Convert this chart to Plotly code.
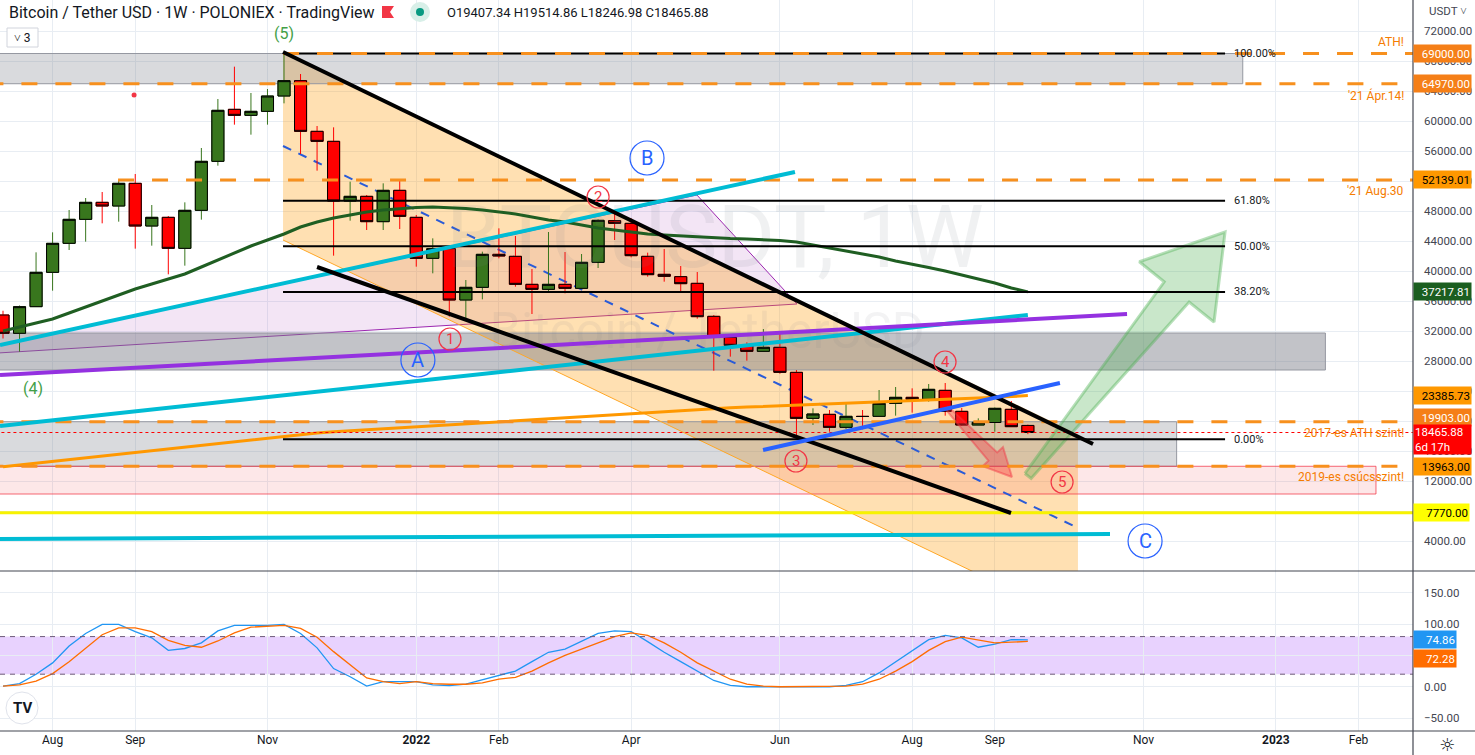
import math
import pandas as pd
import plotly.graph_objects as go
from plotly.subplots import make_subplots

# ---------------- data ----------------
START = pd.Timestamp("2021-07-12")          # week of the first candle
dates = pd.date_range(START, periods=63, freq="7D")

opens = [34133, 31693, 35245, 39822, 43689, 46889, 49156, 48667, 51689, 46000,
         47156, 43022, 48089, 54622, 61556, 60756, 61289, 63333, 65378, 58622,
         57289, 49333, 49956, 46578, 50756, 47156, 41689, 42978, 36133, 37822,
         42222, 41956, 38222, 37556, 38222, 37689, 41156, 46711, 46356, 41956,
         39556, 39244, 38356, 33956, 31156, 30089, 29289, 29822, 26489, 20356,
         20889, 19156, 20622, 20622, 22356, 23156, 22889, 24089, 21289, 19467,
         19800, 21556, 19407.34]
highs = [34700, 35400, 42489, 45156, 48133, 49733, 50533, 52133, 52933, 48800,
         47333, 49156, 56400, 62933, 67244, 63733, 64267, 69000, 66267, 59333,
         59156, 51911, 50133, 51689, 52000, 47467, 44356, 43467, 38800, 42578,
         45689, 44667, 40267, 45200, 42533, 42267, 46889, 48133, 47022, 42444,
         42933, 40667, 39867, 34133, 31300, 30489, 32267, 31600, 26800, 21689,
         21467, 22267, 21467, 24133, 24533, 24356, 24933, 25067, 21733, 20356,
         21800, 22667, 19514.86]
lows = [31000, 29240, 35200, 37378, 42800, 43911, 46356, 46578, 42978, 43378,
        39556, 40711, 46844, 54044, 59511, 58178, 59511, 62356, 55600, 53378,
        42044, 46711, 45467, 45467, 45600, 40578, 39689, 33911, 33467, 36222,
        41689, 37911, 34267, 37333, 37022, 37689, 40400, 44133, 41822, 39244,
        38578, 37333, 33644, 26711, 28578, 28044, 29289, 26300, 17567, 19467,
        18578, 18933, 18889, 20622, 20711, 21111, 22578, 20711, 19378, 19467,
        18578, 19200, 18246.98]
closes = [31693, 35245, 39822, 43689, 46889, 49156, 48667, 51689, 46000, 47156,
          43022, 48089, 54622, 61422, 60756, 61289, 63333, 65378, 58622, 57289,
          49333, 49956, 46578, 50756, 47289, 41689, 42978, 36133, 37822, 42222,
          42000, 38222, 37556, 38222, 37689, 41156, 46756, 46356, 42044, 39511,
          39289, 38311, 33911, 31156, 30089, 29289, 29822, 26489, 20356, 20933,
          19156, 20622, 20600, 22356, 23156, 22889, 24222, 21289, 19467, 19822,
          21689, 19244, 18465.88]
sma50 = [32000, 32533, 33067, 33600, 34400, 35200, 36000, 36800, 37600, 38267,
         38933, 39600, 40533, 41467, 42400, 43333, 44133, 44933, 45867, 46533,
         47067, 47467, 47867, 48133, 48333, 48467, 48533, 48467, 48333, 48133,
         47867, 47600, 47200, 46800, 46533, 46133, 45733, 45467, 45200, 44933,
         44800, 44667, 44533, 44400, 44333, 44267, 44200, 44067, 43867, 43467,
         43067, 42667, 42267, 41867, 41333, 40933, 40467, 40000, 39467, 39000,
         38400, 37733, 37217.81]
ma200 = [13910, 14150, 14395, 14640, 14880, 15120, 15360, 15610, 15850, 16095,
         16330, 16580, 16815, 17065, 17300, 17550, 17790, 18030, 18270, 18410,
         18550, 18685, 18820, 18960, 19100, 19235, 19370, 19510, 19645, 19785,
         19920, 20060, 20200, 20335, 20475, 20610, 20750, 20890, 21025, 21165,
         21300, 21440, 21575, 21670, 21760, 21850, 21930, 22020, 22105, 22195,
         22280, 22370, 22460, 22545, 22630, 22720, 22805, 22895, 22980, 23070,
         23155, 23240, 23385.73]
stoch_k = [1, 5, 20, 38, 65, 85, 99.5, 99.5, 88, 78,
           58, 61, 70, 89, 98, 98, 98, 99.5, 85, 62,
           29, 16, 1, 8, 8, 8, 3, 2, 4, 11,
           17, 25, 40, 55, 60, 72, 85, 89, 88, 72,
           55, 40, 25, 10, 2, 0, 0, 0, 0, 0,
           0, 2, 8, 22, 40, 58, 75, 82, 78, 63,
           68, 75, 74.86]
stoch_d = [1, 3, 9, 21, 40, 61, 83, 94, 94, 88,
           74, 66, 63, 73, 86, 95, 97, 98, 93, 79,
           56, 35, 14, 8, 5, 8, 5, 4, 4, 6,
           12, 15, 25, 38, 50, 60, 70, 80, 86, 82,
           70, 55, 38, 25, 12, 4, 1, 0, 0, 0,
           0, 1, 4, 12, 25, 40, 58, 72, 79, 75,
           70, 71, 72.28]

tick_dates = ["2021-08-02", "2021-09-06", "2021-11-01", "2022-01-03", "2022-02-07", "2022-04-04",
              "2022-06-06", "2022-08-01", "2022-09-05", "2022-11-07", "2023-01-02", "2023-02-06"]
tick_text = ["Aug", "Sep", "Nov", "<b>2022</b>", "Feb", "Apr", "Jun", "Aug", "Sep", "Nov", "<b>2023</b>", "Feb"]

# horizontal levels
ath_level = 69000
apr_level = 64970
aug_level = 52139.01
ath2017_level = 19903
top2019_level = 13963
yellow_level = 7770
last_price = 18465.88
fib_high = 69000
fib_low = 17567
fib_ratios = [1.0, 0.618, 0.5, 0.382, 0.0]
fib_labels = ["100.00%", "61.80%", "50.00%", "38.20%", "0.00%"]

# drawing anchors: (bar offset from first candle, price)
zones = [((-3, 64970), (75.0, 69000), "rgba(120,123,134,0.28)"),
         ((-3, 26800), (80.0, 31733), "rgba(120,123,134,0.45)"),
         ((-3, 13963), (71.0, 19903), "rgba(120,123,134,0.28)")]
pink_zone = ((-3, 10267), (83.06, 13963))
cyan_lines = [((-0.18, 30133), (47.91, 53200)),
              ((-0.18, 19333), (62.0, 34133)),
              ((-0.18, 4267), (66.97, 4933))]
purple_line = ((-0.18, 26133), (68.0, 34267))
triangle = [(-3.27, 28667), (41.98, 50133), (48.03, 35600)]
chan_upper = [(16.94, 69200), (65.03, 18267)]
chan_lower = [(16.94, 44133), (65.03, -6800)]
chan_mid = [(16.94, 56667), (65.03, 5733)]
black_lines = [((16.94, 69200), (65.94, 16933)),
               ((19.0, 40533), (60.98, 7733))]
blue_line = ((45.98, 16133), (63.94, 25067))
fib_span = (16.94, 73.93)
red_arrow = ((57.11, 21733), (61.04, 12533))
green_arrow = ((62.01, 12667), (73.93, 45200))
blue_circles = [("A", 25.1, 28133), ("B", 38.96, 55067), ("C", 69.09, 4000)]
red_circles = [("1", 27.04, 30933), ("2", 36.0, 49867), ("3", 47.97, 14667),
               ("4", 56.99, 27867), ("5", 64.07, 11867)]
green_labels = [("(5)", 17.0, 71733), ("(4)", 1.81, 24400)]

# ---------------- helpers ----------------
PXB = 16.53      # px per bar
PXP = 0.0075     # px per price unit
W, H = 1475, 755
PW, PH = 1413, 731
FONT = "Roboto"
GRID = "#e8edf3"
GREEN = "#38761d"
RED = "#ff0000"
ORANGE = "#f7901e"

# x axis in weekly bar units, counted from START
bars = [(d - START).days / 7 for d in dates]
tick_bars = [(pd.Timestamp(d) - START).days / 7 for d in tick_dates]


def PX(x):
    return x / PW


def PY(y):
    return (PH - y) / PH


def arrow_poly(tail, tip, wt, wb, wh, hl):
    x0, y0 = tail[0] * PXB, tail[1] * PXP
    x1, y1 = tip[0] * PXB, tip[1] * PXP
    dx, dy = x1 - x0, y1 - y0
    L = math.hypot(dx, dy)
    ux, uy = dx / L, dy / L
    nx, ny = -uy, ux
    bx, by = x1 - hl * ux, y1 - hl * uy
    pts = [(x0 + wt * nx, y0 + wt * ny), (bx + wb * nx, by + wb * ny), (bx + wh * nx, by + wh * ny),
           (x1, y1), (bx - wh * nx, by - wh * ny), (bx - wb * nx, by - wb * ny),
           (x0 - wt * nx, y0 - wt * ny)]
    pts.append(pts[0])
    return [px / PXB for px, py in pts], [py / PXP for px, py in pts]


def path_of(pts):
    s = "M " + " L ".join("{:.4f},{:.2f}".format(b, p) for b, p in pts) + " Z"
    return s


fig = make_subplots(rows=2, cols=1, shared_xaxes=True, vertical_spacing=0,
                    row_heights=[571 / 731, 160 / 731])

NOHOVER = dict(hoverinfo="skip", showlegend=False)

# candles: colored wicks, then black-outlined bodies
fig.add_trace(go.Candlestick(x=bars, open=opens, high=highs, low=lows, close=closes,
                             increasing=dict(line=dict(color=GREEN, width=1), fillcolor=GREEN),
                             decreasing=dict(line=dict(color=RED, width=1), fillcolor=RED),
                             whiskerwidth=0, hoverinfo="skip", showlegend=False), row=1, col=1)
body_hi = [max(o, c) for o, c in zip(opens, closes)]
body_lo = [min(o, c) for o, c in zip(opens, closes)]
fig.add_trace(go.Candlestick(x=bars, open=opens, high=body_hi, low=body_lo, close=closes,
                             increasing=dict(line=dict(color="#000000", width=1), fillcolor=GREEN),
                             decreasing=dict(line=dict(color="#000000", width=1), fillcolor=RED),
                             whiskerwidth=0, hoverinfo="skip", showlegend=False), row=1, col=1)

# watermark (faint)
fig.add_trace(go.Scatter(x=[43.07], y=[43467], mode="text", text=["BTCUSDT, 1W"],
                         textfont=dict(size=88, color="rgba(120,123,134,0.11)", family=FONT), **NOHOVER), row=1, col=1)
fig.add_trace(go.Scatter(x=[42.6], y=[31467], mode="text", text=["Bitcoin / TetherUSD"],
                         textfont=dict(size=50, color="rgba(120,123,134,0.09)", family=FONT), **NOHOVER), row=1, col=1)

# moving averages
fig.add_trace(go.Scatter(x=bars, y=ma200, mode="lines", line=dict(color="#ff9800", width=3), **NOHOVER), row=1, col=1)
fig.add_trace(go.Scatter(x=bars, y=sma50, mode="lines", line=dict(color="#1f5e22", width=3), **NOHOVER), row=1, col=1)

# arrows
ax, ay = arrow_poly(red_arrow[0], red_arrow[1], 2, 6, 14, 28)
fig.add_trace(go.Scatter(x=ax, y=ay, mode="lines", fill="toself", fillcolor="rgba(242,54,69,0.38)",
                         line=dict(color="rgba(242,54,69,0.45)", width=2), **NOHOVER), row=1, col=1)
ax, ay = arrow_poly(green_arrow[0], green_arrow[1], 4, 16, 48, 77)
fig.add_trace(go.Scatter(x=ax, y=ay, mode="lines", fill="toself", fillcolor="rgba(76,175,80,0.30)",
                         line=dict(color="rgba(76,175,80,0.40)", width=3), **NOHOVER), row=1, col=1)

# stoch RSI
fig.add_trace(go.Scatter(x=bars, y=stoch_k, mode="lines", line=dict(color="#2196f3", width=1.3), **NOHOVER), row=2, col=1)
fig.add_trace(go.Scatter(x=bars, y=stoch_d, mode="lines", line=dict(color="#ff6d00", width=1.3), **NOHOVER), row=2, col=1)

# ---------------- shapes ----------------
shapes = []
# filled drawings below the candles
shapes.append(dict(type="path", xref="x", yref="y", path=path_of(triangle),
                   fillcolor="rgba(156,39,176,0.12)", line=dict(color="#9c27b0", width=1), layer="between"))
shapes.append(dict(type="path", xref="x", yref="y",
                   path=path_of([chan_upper[0], chan_upper[1], chan_lower[1], chan_lower[0]]),
                   fillcolor="rgba(255,152,0,0.30)", line=dict(width=0), layer="between"))
for (b0, p0), (b1, p1), col in zones:
    shapes.append(dict(type="rect", xref="x", yref="y", x0=b0, x1=b1, y0=p0, y1=p1,
                       fillcolor=col, line=dict(color="#9598a1", width=1), layer="between"))
shapes.append(dict(type="rect", xref="x", yref="y", x0=pink_zone[0][0], x1=pink_zone[1][0],
                   y0=pink_zone[0][1], y1=pink_zone[1][1], fillcolor="rgba(242,54,69,0.12)",
                   line=dict(color="rgba(242,54,69,0.75)", width=1), layer="between"))
shapes.append(dict(type="line", xref="x", yref="y", x0=chan_lower[0][0], y0=chan_lower[0][1],
                   x1=chan_lower[1][0], y1=chan_lower[1][1], line=dict(color="#ffa726", width=1), layer="between"))
shapes.append(dict(type="line", xref="x", yref="y", x0=chan_mid[0][0], y0=chan_mid[0][1],
                   x1=chan_mid[1][0], y1=chan_mid[1][1], line=dict(color="#2a5bd7", width=2, dash="9px,8px"),
                   layer="between"))

# stoch band
shapes.append(dict(type="rect", xref="paper", yref="y2", x0=0, x1=1, y0=20, y1=80,
                   fillcolor="rgba(170,90,250,0.27)", line=dict(width=0), layer="between"))
for lv in (20, 80):
    shapes.append(dict(type="line", xref="paper", yref="y2", x0=0, x1=1, y0=lv, y1=lv,
                       line=dict(color="#6d5a78", width=1, dash="5px,5px"), layer="above"))

# fib lines
for r in fib_ratios:
    v = fib_low + r * (fib_high - fib_low)
    shapes.append(dict(type="line", xref="x", yref="y", x0=fib_span[0], x1=fib_span[1], y0=v, y1=v,
                       line=dict(color="#000000", width=2), layer="above"))

# orange dashed levels
for v, b0 in [(ath_level, 16.94), (apr_level, -3), (aug_level, 6.96), (ath2017_level, -3), (top2019_level, -3)]:
    shapes.append(dict(type="line", xref="x", yref="y", x0=b0, x1=95, y0=v, y1=v,
                       line=dict(color=ORANGE, width=3, dash="16px,18px"), layer="above"))
shapes.append(dict(type="line", xref="x", yref="y", x0=-3, x1=95, y0=last_price, y1=last_price,
                   line=dict(color="#ff0000", width=1, dash="dot"), layer="above"))
shapes.append(dict(type="line", xref="x", yref="y", x0=-3, x1=95, y0=yellow_level, y1=yellow_level,
                   line=dict(color="#f7f200", width=3), layer="above"))


def seg(a, b, color, width):
    return dict(type="line", xref="x", yref="y", x0=a[0], y0=a[1], x1=b[0], y1=b[1],
                line=dict(color=color, width=width), layer="above")


for a, b in cyan_lines:
    shapes.append(seg(a, b, "#00bcd4", 4))
shapes.append(seg(purple_line[0], purple_line[1], "#9431e0", 4))
for a, b in black_lines:
    shapes.append(seg(a, b, "#000000", 4))
shapes.append(seg(blue_line[0], blue_line[1], "#2962ff", 4))


def circ(b, p, r, color, width=1):
    return dict(type="circle", xref="x", yref="y", xsizemode="pixel", ysizemode="pixel",
                xanchor=b, yanchor=p, x0=-r, x1=r, y0=-r, y1=r,
                line=dict(color=color, width=width), layer="above")


for t, b, p in blue_circles:
    shapes.append(circ(b, p, 17, "#2962ff", 1.2))
for t, b, p in red_circles:
    shapes.append(circ(b, p, 11, "#f23645", 1.2))
shapes.append(dict(type="circle", xref="x", yref="y", xsizemode="pixel", ysizemode="pixel",
                   xanchor=7.93, yanchor=63467, x0=-2.5, x1=2.5, y0=-2.5, y1=2.5,
                   fillcolor="#f23645", line=dict(width=0), layer="above"))

# frame lines
shapes.append(dict(type="line", xref="paper", yref="paper", x0=0, x1=W / PW, y0=PY(571), y1=PY(571),
                   line=dict(color="#434651", width=1.2), layer="above"))
shapes.append(dict(type="line", xref="paper", yref="paper", x0=0, x1=W / PW, y0=0, y1=0,
                   line=dict(color="#434651", width=1.2), layer="above"))
shapes.append(dict(type="line", xref="paper", yref="paper", x0=1, x1=1, y0=PY(755), y1=1,
                   line=dict(color="#434651", width=1.2), layer="above"))

# header widgets
shapes.append(dict(type="rect", xref="paper", yref="paper", x0=PX(7), x1=PX(38), y0=PY(47), y1=PY(28),
                   fillcolor="white", line=dict(color="#d1d4dc", width=1), layer="above"))
flag = "M {:.5f},{:.5f} L {:.5f},{:.5f} L {:.5f},{:.5f} L {:.5f},{:.5f} L {:.5f},{:.5f} Z".format(
    PX(382), PY(6), PX(394), PY(6), PX(390), PY(12), PX(394), PY(18), PX(382), PY(18))
shapes.append(dict(type="path", xref="paper", yref="paper", path=flag, fillcolor="#f23645",
                   line=dict(width=0), layer="above"))
shapes.append(dict(type="circle", xref="paper", yref="paper", x0=PX(410), x1=PX(430), y0=PY(22), y1=PY(2),
                   fillcolor="#d8efe8", line=dict(width=0), layer="above"))
shapes.append(dict(type="circle", xref="paper", yref="paper", x0=PX(416), x1=PX(424), y0=PY(16), y1=PY(8),
                   fillcolor="#089981", line=dict(width=0), layer="above"))
shapes.append(dict(type="circle", xref="paper", yref="paper", x0=PX(6), x1=PX(38), y0=PY(724), y1=PY(692),
                   fillcolor="white", line=dict(color="#e0e3eb", width=1), layer="above"))

# ---------------- annotations ----------------
ann = []


def rlabel(val, text, bg, fg, yref="y", shift=0, w=55, h=15):
    return dict(x=1, xref="paper", xanchor="left", y=val, yref=yref, yanchor="middle", yshift=shift,
                text=text, showarrow=False, bgcolor=bg, font=dict(color=fg, size=11.5, family=FONT),
                width=w, height=h, align="right", borderpad=1)


ann.append(rlabel(ath_level, "69000.00", "#f57f17", "white"))
ann.append(rlabel(apr_level, "64970.00", "#f57f17", "white"))
ann.append(rlabel(aug_level, "52139.01", "#ff9800", "#000000"))
ann.append(rlabel(sma50[-1], "37217.81", "#1b5e20", "white"))
ann.append(rlabel(ma200[-1], "23385.73", "#ff9800", "#000000"))
ann.append(rlabel(ath2017_level, "19903.00", "#f57f17", "white", shift=4))
ann.append(dict(x=1, xref="paper", xanchor="left", y=last_price, yref="y", yanchor="top", yshift=9,
                text="18465.88<br>6d 17h", showarrow=False, bgcolor="#ff0000",
                font=dict(color="white", size=11.5, family=FONT), width=55, height=27, align="left",
                borderpad=1))
ann.append(rlabel(top2019_level, "13963.00", "#ff9800", "#000000"))
ann.append(rlabel(yellow_level, "7770.00", "#ffff00", "#000000", w=53))
ann.append(rlabel(stoch_k[-1], "74.86", "#2196f3", "white", yref="y2", w=40))
ann.append(rlabel(stoch_d[-1], "72.28", "#ff6d00", "white", yref="y2", shift=-17, w=40))

for v, t, anc, sh in [(ath_level, "ATH!", "bottom", 3), (apr_level, "'21 Ápr.14!", "top", -2),
                      (aug_level, "'21 Aug.30", "top", -2), (ath2017_level, "2017-es ATH szint!", "top", -2),
                      (top2019_level, "2019-es csúcsszint!", "top", -2)]:
    ann.append(dict(x=PX(1406), xref="paper", xanchor="right", y=v, yref="y", yanchor=anc, yshift=sh,
                    text=t, showarrow=False, font=dict(color="#f57c00", size=12, family=FONT)))

for r, t in zip(fib_ratios, fib_labels):
    v = fib_low + r * (fib_high - fib_low)
    ann.append(dict(x=74.35, xref="x", xanchor="left", y=v, yref="y", yanchor="middle", text=t,
                    showarrow=False, font=dict(color="#131722", size=11, family=FONT)))

for t, b, p in blue_circles:
    ann.append(dict(x=b, y=p, xref="x", yref="y", text=t, showarrow=False,
                    font=dict(color="#2962ff", size=20, family=FONT)))
for t, b, p in red_circles:
    ann.append(dict(x=b, y=p, xref="x", yref="y", text=t, showarrow=False,
                    font=dict(color="#f23645", size=15, family=FONT)))
for t, b, p in green_labels:
    ann.append(dict(x=b, y=p, xref="x", yref="y", text=t, showarrow=False,
                    font=dict(color="#43a047", size=16, family=FONT)))

ann.append(dict(x=PX(7), y=PY(12), xref="paper", yref="paper", xanchor="left", yanchor="middle",
                text="Bitcoin / Tether USD · 1W · POLONIEX · TradingView", showarrow=False,
                font=dict(color="#131722", size=16, family=FONT)))
ann.append(dict(x=PX(445), y=PY(12), xref="paper", yref="paper", xanchor="left", yanchor="middle",
                text="O19407.34 H19514.86 L18246.98 C18465.88", showarrow=False,
                font=dict(color="#131722", size=13, family=FONT)))
ann.append(dict(x=PX(22.5), y=PY(37.5), xref="paper", yref="paper", xanchor="center", yanchor="middle",
                text="˅ 3", showarrow=False, font=dict(color="#131722", size=12, family=FONT)))
ann.append(dict(x=PX(1427), y=PY(11), xref="paper", yref="paper", xanchor="left", yanchor="middle",
                text="USDT ˅", showarrow=False, font=dict(color="#434651", size=11.5, family=FONT)))
ann.append(dict(x=PX(22), y=PY(708), xref="paper", yref="paper", xanchor="center", yanchor="middle",
                text="<b>TV</b>", showarrow=False, font=dict(color="#131722", size=15, family=FONT)))
ann.append(dict(x=PX(1447), y=PY(744), xref="paper", yref="paper", xanchor="center", yanchor="middle",
                text="☼", showarrow=False, font=dict(color="#131722", size=18, family="DejaVu Sans")))

# ---------------- layout ----------------
XL = -3 / PXB
XR = (PW - 3) / PXB

fig.update_layout(
    width=W, height=H, margin=dict(l=0, r=W - PW, t=0, b=H - PH),
    paper_bgcolor="white", plot_bgcolor="white", showlegend=False, hovermode=False,
    font=dict(family=FONT, color="#131722"),
    shapes=shapes, annotations=ann, dragmode=False,
    boxgap=0.15, boxgroupgap=0.14,
)
fig.update_xaxes(type="linear", range=[XL, XR], tickvals=tick_bars, ticktext=tick_text, showgrid=True,
                 gridcolor=GRID, gridwidth=1, zeroline=False, showline=False, ticks="",
                 rangeslider_visible=False, tickfont=dict(size=12, color="#131722", family=FONT))
fig.update_xaxes(showticklabels=False, row=1, col=1)
fig.update_yaxes(row=1, col=1, range=[0, 76133.3], side="right", tickvals=list(range(4000, 72001, 4000)),
                 tickformat=".2f", gridcolor=GRID, ticks="", ticklabelstandoff=10, zeroline=False,
                 showline=False, tickfont=dict(size=11.5, color="#434651", family=FONT), fixedrange=True)
fig.update_yaxes(row=2, col=1, range=[-70.6, 184.6], side="right", tickvals=[-50, 0, 50, 100, 150],
                 tickformat=".2f", gridcolor=GRID, ticks="", ticklabelstandoff=10, zeroline=False,
                 showline=False, tickfont=dict(size=11.5, color="#434651", family=FONT), fixedrange=True)

fig.write_html("out.html", config={"displayModeBar": False},
               post_script="document.body.style.margin='0';document.body.style.overflow='hidden';")
